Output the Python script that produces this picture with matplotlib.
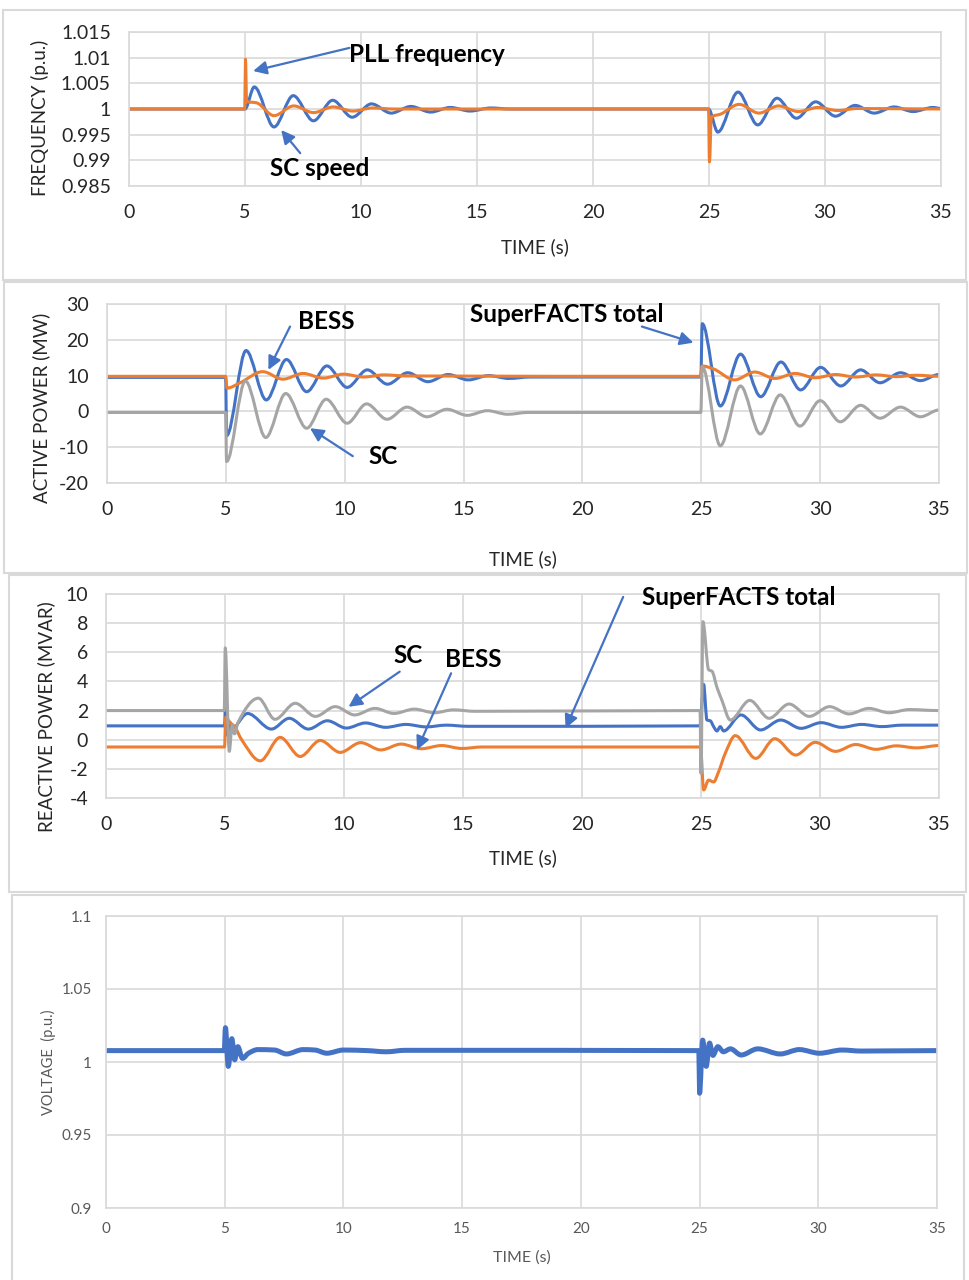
import numpy as np
import matplotlib
matplotlib.use("Agg")
import matplotlib.pyplot as plt
from matplotlib.path import Path
from matplotlib.patches import PathPatch, Rectangle

plt.rcParams['font.family'] = ['Lato', 'DejaVu Sans']

BLUE = '#4472C4'
ORANGE = '#ED7D31'
GRAY = '#A5A5A5'
GRID = '#D9D9D9'

# ---- panel 1: frequency (p.u.) ----
freq_sc_t = [0, 5.0, 5.4, 6.25, 7.08, 7.95, 8.78, 9.62, 10.45, 11.3, 12.15, 13.0, 13.85, 14.7,
             15.6, 16.4, 24.98, 25.38, 26.25, 27.1, 27.93, 28.77, 29.6, 30.45, 31.3, 32.12,
             32.98, 33.8, 34.65, 35]
freq_sc = [1.0, 1.0, 1.0043, 0.9965, 1.0026, 0.9977, 1.0017, 0.9984, 1.0010, 0.9992, 1.0005,
           0.9994, 1.0003, 0.9996, 1.0002, 1.0, 1.0, 0.9955, 1.0033, 0.9969, 1.0021, 0.9982,
           1.0014, 0.9986, 1.0007, 0.9992, 1.0004, 0.9995, 1.0003, 1.0001]
freq_pll_t = [0, 4.99, 5.02, 5.07, 5.5, 6.25, 7.1, 7.95, 8.8, 9.65, 10.5, 11.4, 24.98, 25.02,
              25.1, 25.5, 26.3, 27.15, 28.0, 28.85, 29.7, 30.55, 31.4, 35]
freq_pll = [1.0, 1.0, 1.0097, 1.0015, 1.0012, 0.9987, 1.0006, 0.9993, 1.0004, 0.9996, 1.0002,
            1.0, 1.0, 0.9897, 0.9984, 0.999, 1.0009, 0.9992, 1.0006, 0.9995, 1.0003, 0.9997,
            1.0001, 1.0]

# ---- panel 2: active power (MW) ----
p_total_t = [0, 4.99, 5.03, 5.85, 6.7, 7.55, 8.4, 9.25, 10.1, 10.95, 11.8, 12.65, 13.5, 14.35,
             15.2, 16.05, 16.9, 17.8, 24.98, 25.04, 25.8, 26.65, 27.5, 28.35, 29.18, 30.02,
             30.87, 31.7, 32.52, 33.38, 34.22, 35]
p_total = [9.5, 9.5, -6.8, 17.0, 3.2, 14.5, 5.5, 12.7, 6.7, 11.6, 7.6, 10.8, 8.3, 10.3, 8.8,
           10.0, 9.2, 9.6, 9.6, 24.5, 1.5, 16.0, 4.1, 13.8, 6.0, 12.3, 7.1, 11.6, 8.0, 10.8,
           8.6, 10.3]
p_bess_t = [0, 4.99, 5.05, 5.6, 6.55, 7.4, 8.25, 9.1, 9.95, 10.8, 11.65, 12.6, 24.98, 25.03,
            25.5, 26.4, 27.25, 28.1, 28.95, 29.8, 30.65, 31.5, 32.35, 33.2, 34.05, 35]
p_bess = [9.8, 9.8, 6.5, 8.0, 11.1, 9.0, 10.6, 9.3, 10.4, 9.6, 10.2, 9.9, 9.8, 12.7, 11.9, 8.8,
          11.0, 9.2, 10.6, 9.4, 10.3, 9.6, 10.2, 9.7, 10.1, 9.8]
p_sc_t = [0, 4.99, 5.03, 5.82, 6.68, 7.52, 8.4, 9.22, 10.1, 10.92, 11.78, 12.62, 13.46, 14.3,
          15.15, 16.0, 16.85, 17.7, 24.98, 25.04, 25.8, 26.65, 27.48, 28.32, 29.15, 30.0,
          30.85, 31.7, 32.52, 33.38, 34.22, 35]
p_sc = [-0.3, -0.3, -14.0, 8.5, -7.3, 5.0, -4.7, 3.4, -3.3, 2.1, -2.2, 1.2, -1.5, 0.6, -1.1,
        0.2, -0.8, -0.3, -0.3, 12.5, -9.6, 7.1, -6.3, 4.6, -4.1, 3.0, -2.9, 1.7, -1.9, 1.2,
        -1.5, 0.4]

# ---- panel 3: reactive power (MVAR) ----
q_total_t = [0, 4.98, 5.03, 5.1, 5.2, 5.3, 5.45, 5.95, 6.95, 7.7, 8.5, 9.3, 10.1, 10.9, 11.75,
             12.6, 13.45, 14.3, 15.2, 24.96, 25.11, 25.25, 25.39, 25.53, 25.67, 25.81, 25.95,
             26.68, 27.5, 28.35, 29.2, 30.05, 30.9, 31.75, 32.6, 33.45, 35]
q_total = [0.95, 0.95, 3.0, 0.3, 1.2, 0.5, 0.9, 1.8, 0.73, 1.47, 0.73, 1.3, 0.8, 1.15, 0.85,
           1.05, 0.88, 1.0, 0.92, 0.95, 3.8, 1.35, 1.3, 0.9, 0.6, 0.9, 0.6, 1.7, 0.67, 1.35,
           0.78, 1.17, 0.85, 1.05, 0.9, 1.0, 1.0]
q_bess_t = [0, 4.98, 5.03, 5.2, 5.4, 5.7, 6.48, 7.32, 8.16, 9.0, 9.84, 10.7, 11.55, 12.4, 13.25,
            14.1, 14.95, 15.8, 24.98, 25.11, 25.32, 25.53, 25.74, 26.02, 26.44, 27.3, 28.1,
            28.98, 29.8, 30.65, 31.5, 32.35, 33.2, 34.05, 35]
q_bess = [-0.5, -0.5, 1.55, 1.2, 0.9, 0.0, -1.45, 0.16, -1.15, -0.05, -0.87, -0.2, -0.7, -0.3,
          -0.62, -0.4, -0.6, -0.5, -0.5, -3.45, -2.77, -2.9, -2.2, -0.93, 0.28, -1.28, 0.07,
          -1.05, -0.18, -0.8, -0.33, -0.66, -0.42, -0.56, -0.4]
q_sc_t = [0, 4.97, 5.01, 5.18, 5.3, 5.4, 5.55, 6.4, 7.1, 7.95, 8.8, 9.63, 10.45, 11.3, 12.1,
          12.95, 13.8, 14.6, 15.5, 24.96, 25.0, 25.08, 25.32, 25.46, 25.67, 25.88, 26.23,
          27.05, 27.86, 28.7, 29.55, 30.4, 31.22, 32.05, 32.9, 33.75, 35]
q_sc = [2.0, 2.0, 6.3, -0.8, 1.0, 0.4, 1.2, 2.85, 1.4, 2.5, 1.6, 2.27, 1.7, 2.15, 1.8, 2.1,
        1.85, 2.05, 1.95, 2.0, -2.3, 8.1, 4.8, 4.7, 3.6, 2.7, 1.35, 2.7, 1.47, 2.45, 1.6, 2.27,
        1.77, 2.15, 1.85, 2.07, 2.0]

# ---- panel 4: voltage (p.u.) ----
volt_t = [0, 4.98, 5.03, 5.15, 5.3, 5.42, 5.55, 5.75, 6.0, 6.4, 7.1, 7.6, 8.3, 8.8, 9.3, 10.0,
          11.0, 11.8, 12.6, 24.97, 25.0, 25.13, 25.28, 25.42, 25.56, 25.77, 26.0, 26.3, 26.75,
          27.45, 28.4, 29.2, 30.05, 31.0, 31.8, 35]
volt = [1.0078, 1.0078, 1.0235, 0.997, 1.016, 1.0015, 1.0105, 1.0025, 1.006, 1.0085, 1.0082,
        1.0055, 1.0085, 1.0082, 1.006, 1.0082, 1.0078, 1.007, 1.008, 1.0078, 0.9786, 1.015,
        0.997, 1.013, 1.0045, 1.0105, 1.007, 1.009, 1.0048, 1.009, 1.0055, 1.0085, 1.006,
        1.0082, 1.0075, 1.0078]

x_ticks = [0, 5, 10, 15, 20, 25, 30, 35]

W, H = 970, 1280


def smooth_path(t, v):
    """Excel-like smoothed line through the points (monotone cubic, no overshoot)."""
    t = np.asarray(t, float)
    v = np.asarray(v, float)
    h = np.diff(t)
    delta = np.diff(v) / h
    d = np.zeros_like(v)
    for i in range(1, len(v) - 1):
        if delta[i - 1] * delta[i] > 0:
            w1 = 2 * h[i] + h[i - 1]
            w2 = h[i] + 2 * h[i - 1]
            d[i] = (w1 + w2) / (w1 / delta[i - 1] + w2 / delta[i])
    verts = [(t[0], v[0])]
    codes = [Path.MOVETO]
    for i in range(len(h)):
        verts += [(t[i] + h[i] / 3, v[i] + d[i] * h[i] / 3),
                  (t[i + 1] - h[i] / 3, v[i + 1] - d[i + 1] * h[i] / 3),
                  (t[i + 1], v[i + 1])]
        codes += [Path.CURVE4] * 3
    return Path(verts, codes)


def draw_series(ax, t, v, color, lw):
    ax.add_patch(PathPatch(smooth_path(t, v), fill=False, edgecolor=color, lw=lw,
                           capstyle='round', joinstyle='round'))


def make_axes(fig, left, top, right, bottom):
    return fig.add_axes([left / W, 1 - bottom / H, (right - left) / W, (bottom - top) / H])


def style_axes(ax, yticks, ylabels, fs, color, xpad, ypad):
    ax.set_xlim(0, 35)
    ax.set_ylim(yticks[0], yticks[-1])
    ax.set_xticks(x_ticks)
    ax.set_xticklabels([str(x) for x in x_ticks])
    ax.set_yticks(yticks)
    ax.set_yticklabels(ylabels)
    ax.grid(True, color=GRID, lw=1.2)
    ax.set_axisbelow(True)
    for s in ax.spines.values():
        s.set_color(GRID)
        s.set_linewidth(1.2)
    ax.tick_params(axis='both', length=0, labelsize=fs, colors=color)
    ax.tick_params(axis='x', pad=xpad)
    ax.tick_params(axis='y', pad=ypad)


def box(fig, x0, y0, x1, y1):
    fig.add_artist(Rectangle((x0 / W, 1 - y1 / H), (x1 - x0) / W, (y1 - y0) / H,
                             transform=fig.transFigure, fill=False, edgecolor=GRID, lw=1.5))


def arrow(ax, tail, tip):
    ax.annotate('', xy=tip, xytext=tail,
                arrowprops=dict(arrowstyle='-|>', color=BLUE, lw=1.6, mutation_scale=20,
                                shrinkA=0, shrinkB=0))


def note(ax, x, y, s):
    ax.text(x, y, s, fontsize=17.5, fontweight='bold', color='black', ha='left', va='center')


fig = plt.figure(figsize=(9.7, 12.8), dpi=100)

box(fig, 3, 10, 966, 280)
box(fig, 4, 282, 967, 573)
box(fig, 9, 575, 966, 892)
box(fig, 12, 895, 964, 1290)

txt = '#262626'

# panel 1
ax1 = make_axes(fig, 129, 32, 941, 186)
style_axes(ax1, [0.985, 0.99, 0.995, 1.0, 1.005, 1.01, 1.015],
           ['0.985', '0.99', '0.995', '1', '1.005', '1.01', '1.015'], 14, txt, 13, 13)
draw_series(ax1, freq_sc_t, freq_sc, BLUE, 2.2)
draw_series(ax1, freq_pll_t, freq_pll, ORANGE, 2.2)
ax1.text(-0.11, 0.44, 'FREQUENCY (p.u.)', transform=ax1.transAxes, rotation=90,
         ha='center', va='center', fontsize=13.5, color=txt)
ax1.text(0.5, -0.396, 'TIME (s)', transform=ax1.transAxes, ha='center', va='center',
         fontsize=13.5, color=txt)
note(ax1, 9.5, 1.0106, 'PLL frequency')
arrow(ax1, (9.5, 1.0119), (5.35, 1.0074))
note(ax1, 6.09, 0.9885, 'SC speed')
arrow(ax1, (7.38, 0.9914), (6.56, 0.9959))

# panel 2
ax2 = make_axes(fig, 107, 304, 939, 483)
style_axes(ax2, [-20, -10, 0, 10, 20, 30], ['-20', '-10', '0', '10', '20', '30'], 14, txt,
           13, 13)
draw_series(ax2, p_total_t, p_total, BLUE, 2.2)
draw_series(ax2, p_bess_t, p_bess, ORANGE, 2.2)
draw_series(ax2, p_sc_t, p_sc, GRAY, 2.2)
ax2.text(-0.079, 0.42, 'ACTIVE POWER (MW)', transform=ax2.transAxes, rotation=90,
         ha='center', va='center', fontsize=13.5, color=txt)
ax2.text(0.5, -0.425, 'TIME (s)', transform=ax2.transAxes, ha='center', va='center',
         fontsize=13.5, color=txt)
note(ax2, 8.04, 25.2, 'BESS')
arrow(ax2, (7.7, 23.7), (6.79, 11.6))
note(ax2, 11.02, -12.5, 'SC')
arrow(ax2, (10.34, -12.5), (8.54, -4.7))
note(ax2, 15.27, 27.0, 'SuperFACTS total')
arrow(ax2, (22.5, 23.7), (24.67, 19.2))

# panel 3
ax3 = make_axes(fig, 106, 594, 939, 798)
style_axes(ax3, [-4, -2, 0, 2, 4, 6, 8, 10], ['-4', '-2', '0', '2', '4', '6', '8', '10'], 14,
           txt, 13, 13)
draw_series(ax3, q_total_t, q_total, BLUE, 2.2)
draw_series(ax3, q_bess_t, q_bess, ORANGE, 2.2)
draw_series(ax3, q_sc_t, q_sc, GRAY, 2.2)
ax3.text(-0.072, 0.40, 'REACTIVE POWER (MVAR)', transform=ax3.transAxes, rotation=90,
         ha='center', va='center', fontsize=13.5, color=txt)
ax3.text(0.5, -0.294, 'TIME (s)', transform=ax3.transAxes, ha='center', va='center',
         fontsize=13.5, color=txt)
note(ax3, 12.07, 5.8, 'SC')
arrow(ax3, (12.34, 4.67), (10.19, 2.26))
note(ax3, 14.26, 5.5, 'BESS')
arrow(ax3, (14.5, 4.56), (13.07, -0.7))
note(ax3, 22.53, 9.75, 'SuperFACTS total')
arrow(ax3, (21.73, 9.8), (19.31, 0.78))

# panel 4
ax4 = make_axes(fig, 106, 916, 937, 1208)
style_axes(ax4, [0.9, 0.95, 1.0, 1.05, 1.1], ['0.9', '0.95', '1', '1.05', '1.1'], 11,
           '#595959', 10, 10)
draw_series(ax4, volt_t, volt, BLUE, 3.6)
ax4.text(-0.069, 0.5, 'VOLTAGE  (p.u.)', transform=ax4.transAxes, rotation=90,
         ha='center', va='center', fontsize=10.5, color='#595959')
ax4.text(0.5, -0.168, 'TIME (s)', transform=ax4.transAxes, ha='center', va='center',
         fontsize=11.5, color='#595959')

fig.savefig('out.png', dpi=100)
